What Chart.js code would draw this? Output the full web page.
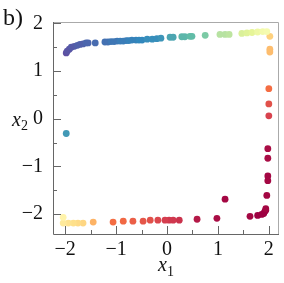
<!DOCTYPE html>
<html>
<head>
<meta charset="utf-8">
<script src="https://cdn.jsdelivr.net/npm/chart.js@4.4.0/dist/chart.umd.min.js"></script>
<style>
  body { margin: 0; background: #fff; }
  #wrap { width: 284px; height: 283px; }
</style>
</head>
<body>
<div id="wrap"><canvas id="phaseChart" width="284" height="283"></canvas></div>
<script>
// points, colour value c runs 0 (dark red) .. 1 (purple)
const topX = [-1.98, -1.96, -1.92, -1.88, -1.82, -1.76, -1.71, -1.65, -1.59, -1.55, -1.41,
  -1.22, -1.16, -1.10, -1.04, -0.98, -0.92, -0.86, -0.80, -0.75, -0.69, -0.61, -0.55, -0.49,
  -0.39, -0.29, -0.20, -0.12, 0.06, 0.12, 0.29, 0.35, 0.45, 0.49, 0.75, 1.04, 1.14, 1.22,
  1.47, 1.57, 1.67, 1.78, 1.88, 1.96];
const topY = [1.38, 1.42, 1.46, 1.50, 1.52, 1.54, 1.56, 1.57, 1.59, 1.59, 1.59,
  1.61, 1.61, 1.62, 1.62, 1.63, 1.63, 1.63, 1.64, 1.64, 1.65, 1.65, 1.65, 1.65,
  1.67, 1.67, 1.68, 1.69, 1.71, 1.71, 1.72, 1.72, 1.73, 1.73, 1.75, 1.77, 1.77, 1.77,
  1.79, 1.80, 1.81, 1.82, 1.83, 1.83];
const topC = [1.0, 0.99, 0.99, 0.98, 0.98, 0.97, 0.97, 0.97, 0.96, 0.96, 0.95,
  0.94, 0.94, 0.93, 0.93, 0.93, 0.92, 0.92, 0.92, 0.91, 0.91, 0.91, 0.90, 0.90,
  0.89, 0.89, 0.89, 0.88, 0.85, 0.85, 0.82, 0.82, 0.81, 0.81, 0.77, 0.68, 0.68, 0.67,
  0.62, 0.61, 0.60, 0.57, 0.55, 0.54];

const sideX = [1.78, 1.86, 1.90, 1.92, 1.94, 1.94, 1.96, 1.98, 1.98, 1.98, 1.98,
  2.00, 2.00, 2.00, 2.02, 2.02, 2.02];
const sideY = [-2.03, -2.01, -1.99, -1.95, -1.92, -1.89, -1.61, -1.30, -1.20, -0.83, -0.63,
  0.06, 0.31, 0.63, 1.40, 1.46, 1.73];
const sideC = [0.0, 0.0, 0.0, 0.0, 0.0, 0.01, 0.01, 0.01, 0.01, 0.02, 0.02,
  0.11, 0.14, 0.2, 0.33, 0.33, 0.37];

const bottomX = [1.63, 1.14, 0.98, 0.59, 0.24, 0.12, 0.04, -0.04, -0.18, -0.33, -0.47,
  -0.67, -0.86, -1.06, -1.45, -1.65, -1.75, -1.84, -1.94, -2.04, -2.04];
const bottomY = [-2.05, -1.69, -2.09, -2.11, -2.13, -2.13, -2.13, -2.13, -2.13, -2.13, -2.15,
  -2.15, -2.15, -2.17, -2.17, -2.19, -2.19, -2.19, -2.19, -2.19, -2.07];
const bottomC = [0.01, 0.01, 0.02, 0.04, 0.08, 0.09, 0.09, 0.1, 0.12, 0.14, 0.15,
  0.17, 0.19, 0.2, 0.31, 0.38, 0.39, 0.4, 0.41, 0.43, 0.46];

const strayX = [-1.98];
const strayY = [-0.31];
const strayC = [0.87];

const xTicks = [-2, -1.5, -1, -0.5, 0, 0.5, 1, 1.5, 2];
const yTicks = [-2, -1.5, -1, -0.5, 0, 0.5, 1, 1.5, 2];

// matplotlib Spectral
const spectral = ['#9e0142', '#d53e4f', '#f46d43', '#fdae61', '#fee08b', '#ffffbf',
  '#e6f598', '#abdda4', '#66c2a5', '#3288bd', '#5e4fa2'];

function hexToRgb(h) {
  return [parseInt(h.slice(1, 3), 16), parseInt(h.slice(3, 5), 16), parseInt(h.slice(5, 7), 16)];
}

function spectralColor(c) {
  const p = Math.max(0, Math.min(1, c)) * (spectral.length - 1);
  const i = Math.min(Math.floor(p), spectral.length - 2);
  const f = p - i;
  const a = hexToRgb(spectral[i]), b = hexToRgb(spectral[i + 1]);
  const rgb = a.map((v, k) => Math.round(v + (b[k] - v) * f));
  return `rgb(${rgb[0]}, ${rgb[1]}, ${rgb[2]})`;
}

const xs = [...bottomX, ...sideX, ...topX, ...strayX];
const ys = [...bottomY, ...sideY, ...topY, ...strayY];
const cs = [...bottomC, ...sideC, ...topC, ...strayC];
const points = xs.map((x, i) => ({ x: x, y: ys[i] }));
const colors = cs.map(spectralColor);

const minus = v => (v < 0 ? '\u2212' + Math.abs(v) : String(v));
const serif = '"Liberation Serif", "DejaVu Serif", serif';

// inward ticks, spines, axis names and panel letter
const decorations = {
  id: 'decorations',
  afterDraw(chart) {
    const ctx = chart.ctx;
    const a = chart.chartArea;
    const xs = chart.scales.x, ys = chart.scales.y;
    ctx.save();
    ctx.lineWidth = 1;
    ctx.strokeStyle = '#aaaaaa';
    ctx.beginPath();
    ctx.moveTo(a.left, a.top + 0.5);
    ctx.lineTo(a.right + 0.5, a.top + 0.5);
    ctx.lineTo(a.right + 0.5, a.bottom);
    ctx.stroke();
    ctx.strokeStyle = '#666666';
    ctx.beginPath();
    ctx.moveTo(a.left + 0.5, a.top);
    ctx.lineTo(a.left + 0.5, a.bottom + 0.5);
    ctx.lineTo(a.right + 1, a.bottom + 0.5);
    ctx.stroke();
    ctx.beginPath();
    xTicks.forEach(v => {
      const px = Math.round(xs.getPixelForValue(v)) + 0.5;
      const len = Number.isInteger(v) ? 8 : 4;
      ctx.moveTo(px, a.bottom);
      ctx.lineTo(px, a.bottom - len);
    });
    yTicks.forEach(v => {
      const py = Math.round(ys.getPixelForValue(v)) + 0.5;
      const len = Number.isInteger(v) ? 8 : 4;
      ctx.moveTo(a.left, py);
      ctx.lineTo(a.left + len, py);
    });
    ctx.stroke();

    ctx.fillStyle = '#111';
    ctx.textBaseline = 'alphabetic';
    ctx.textAlign = 'left';
    ctx.font = 'italic 20px ' + serif;
    ctx.fillText('x', 158, 271);
    ctx.fillText('x', 12, 126);
    ctx.font = '14px ' + serif;
    ctx.fillText('1', 167, 276);
    ctx.fillText('2', 21, 130);
    ctx.font = '24px ' + serif;
    ctx.fillText('b)', 3, 25);
    ctx.restore();
  }
};

const ctx = document.getElementById('phaseChart').getContext('2d');
const phaseChart = new Chart(ctx, {
  type: 'scatter',
  data: {
    datasets: [{
      data: points,
      backgroundColor: colors,
      borderWidth: 0,
      pointRadius: 3.4,
      pointHoverRadius: 3.4
    }]
  },
  options: {
    responsive: false,
    animation: false,
    layout: { padding: { top: 8, right: 6, left: 0, bottom: 0 } },
    plugins: { legend: { display: false }, tooltip: { enabled: false } },
    scales: {
      x: {
        type: 'linear',
        min: -2.24,
        max: 2.18,
        grid: { display: false, drawTicks: false },
        border: { display: false },
        afterBuildTicks: s => { s.ticks = xTicks.map(v => ({ value: v })); },
        afterFit: s => { s.height = 49; },
        ticks: {
          padding: 4,
          color: '#111',
          maxRotation: 0,
          autoSkip: false,
          font: { family: serif, size: 20 },
          callback: v => (Number.isInteger(v) ? minus(v) : '')
        }
      },
      y: {
        type: 'linear',
        min: -2.42,
        max: 2.03,
        grid: { display: false, drawTicks: false },
        border: { display: false },
        afterBuildTicks: s => { s.ticks = yTicks.map(v => ({ value: v })); },
        afterFit: s => { s.width = 53; },
        ticks: {
          padding: 10,
          color: '#111',
          autoSkip: false,
          font: { family: serif, size: 20 },
          callback: v => (Number.isInteger(v) ? minus(v) : '')
        }
      }
    }
  },
  plugins: [decorations]
});
</script>
</body>
</html>
